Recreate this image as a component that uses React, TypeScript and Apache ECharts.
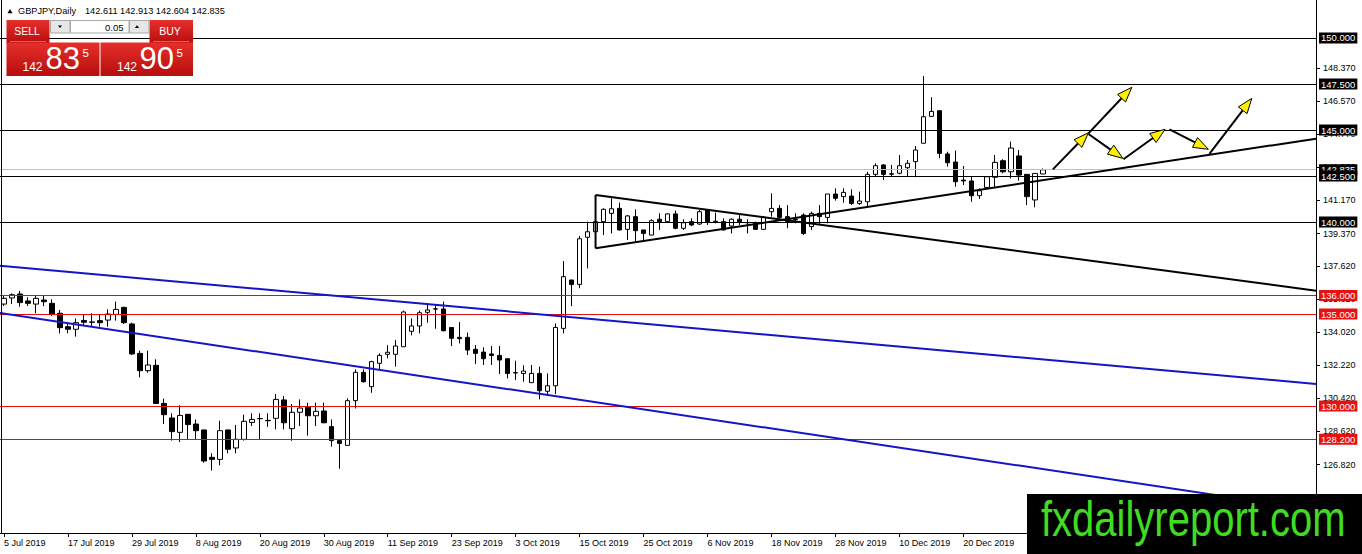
import React, { useEffect, useRef } from "react";
import * as echarts from "echarts";

const FONT = "Liberation Sans, Arial, sans-serif";

// ---- candle data (bar index 0 = 5 Jul 2019, one bar per trading day) ----
const opens = [
  135.54, 135.87, 136.09, 135.71, 135.54, 135.76, 135.58, 135.04, 134.31, 134.17,
  134.65, 134.55, 134.64, 134.67, 134.98, 135.36, 134.46, 132.86, 131.92, 132.21,
  130.14, 129.35, 128.57, 129.55, 129.02, 128.7, 127.21, 127.1, 128.7, 127.72,
  128.19, 129.11, 129.31, 129.22, 129.33, 130.33, 128.77, 129.66, 129.96, 129.47,
  129.73, 128.88, 128.12, 127.86, 130.29, 131.83, 131.05, 132.32, 132.81, 132.81,
  133.22, 134.06, 134.35, 135.09, 135.28, 135.27, 134.27, 133.73, 133.73, 133.08,
  132.93, 132.83, 132.75, 132.57, 131.81, 131.77, 131.27, 131.77, 130.8, 131.1,
  134.22, 136.85, 136.61, 139.17, 139.47, 140.02, 140.47, 140.74, 139.6, 140.29,
  139.57, 139.29, 140.15, 140.02, 140.44, 139.66, 140.02, 139.89, 140.65, 140.04,
  140.02, 139.78, 140.15, 139.97, 139.93, 139.6, 140.56, 140.74, 140.29, 140.15,
  140.38, 139.75, 140.47, 140.25, 141.52, 141.38, 141.41, 141.01, 141.1, 142.59,
  143.1, 142.62, 142.65, 142.95, 143.28, 144.28, 145.74, 146.05, 143.7, 143.26,
  142.28, 142.23, 141.43, 141.88, 142.43, 143.33, 142.73, 143.59, 142.59, 141.2,
  142.611,
];
const highs = [
  135.98, 136.12, 136.25, 135.91, 136.03, 135.98, 135.8, 135.22, 134.53, 134.76,
  134.98, 135.04, 134.95, 135.25, 135.67, 135.4, 134.53, 133.01, 133.01, 132.54,
  130.4, 129.6, 130.04, 129.55, 129.27, 128.7, 127.43, 129.2, 128.7, 128.97,
  129.53, 129.6, 129.6, 129.6, 130.65, 130.54, 130.11, 130.36, 130.18, 130.18,
  130.18, 129.27, 128.12, 130.42, 131.99, 131.99, 132.46, 132.86, 133.31, 133.59,
  135.18, 134.76, 135.18, 135.58, 135.54, 135.67, 134.27, 134.56, 133.99, 133.31,
  133.19, 133.26, 133.26, 132.57, 132.46, 132.21, 132.23, 132.14, 131.77, 134.49,
  137.88, 136.85, 139.24, 140.02, 140.13, 140.74, 141.29, 141.05, 140.38, 140.69,
  139.57, 140.15, 140.47, 140.47, 140.62, 140.15, 140.2, 140.65, 140.69, 140.51,
  140.2, 140.2, 140.47, 140.15, 140.02, 140.33, 141.56, 140.92, 140.92, 140.47,
  140.47, 140.56, 140.92, 141.52, 141.83, 141.83, 141.77, 141.65, 142.73, 143.19,
  143.15, 143.1, 143.64, 143.37, 144.13, 147.93, 146.78, 146.05, 143.82, 143.88,
  143.04, 142.46, 141.83, 142.46, 143.64, 143.41, 144.37, 143.91, 142.59, 142.64,
  142.913,
];
const lows = [
  135.44, 135.54, 135.4, 135.44, 135.04, 135.43, 134.89, 133.95, 133.95, 133.77,
  134.35, 134.35, 134.31, 134.31, 134.64, 134.46, 132.77, 131.56, 131.81, 130.11,
  129.02, 128.12, 128.04, 128.19, 128.19, 126.92, 126.49, 126.78, 127.43, 127.43,
  128.12, 128.91, 128.19, 128.87, 128.73, 128.73, 128.11, 128.91, 128.39, 128.91,
  129.06, 127.79, 126.59, 127.86, 129.87, 131.27, 130.72, 131.96, 132.59, 132.14,
  133.22, 133.84, 133.95, 134.53, 134.2, 134.06, 133.26, 133.4, 132.77, 132.28,
  132.23, 132.23, 131.74, 131.5, 131.41, 131.32, 131.27, 130.36, 130.54, 130.65,
  133.95, 135.43, 136.4, 137.48, 139.38, 139.29, 139.38, 139.53, 139.02, 138.93,
  139.02, 139.29, 139.57, 139.96, 139.6, 139.57, 139.78, 139.84, 139.84, 139.93,
  139.53, 139.38, 139.84, 139.38, 139.6, 139.57, 140.29, 140.15, 139.66, 139.93,
  139.29, 139.57, 139.84, 139.93, 141.16, 141.05, 140.92, 140.92, 140.87, 142.5,
  142.28, 142.5, 142.59, 142.5, 142.43, 144.28, 145.74, 143.46, 143.01, 141.92,
  142.01, 141.1, 141.25, 141.83, 141.88, 142.65, 142.37, 142.25, 140.92, 140.8,
  142.604,
];
const closes = [
  135.85, 136.05, 135.62, 135.58, 135.85, 135.67, 134.98, 134.26, 134.17, 134.53,
  134.55, 134.57, 134.53, 135.0, 135.25, 134.53, 132.83, 131.92, 132.23, 130.14,
  129.53, 128.61, 129.49, 128.99, 128.66, 127.01, 127.1, 128.66, 127.65, 128.19,
  129.17, 129.27, 129.32, 129.2, 130.36, 129.09, 129.66, 129.89, 129.47, 129.71,
  129.09, 128.12, 127.97, 130.29, 131.83, 131.32, 132.41, 132.75, 132.92, 133.26,
  135.11, 134.35, 135.07, 135.22, 135.27, 134.09, 133.68, 133.66, 133.04, 132.86,
  132.57, 132.75, 132.5, 131.77, 131.8, 131.9, 131.77, 130.83, 131.1, 134.27,
  137.03, 136.6, 139.09, 139.47, 140.02, 140.69, 140.72, 139.57, 140.33, 139.53,
  139.38, 140.07, 140.02, 140.44, 139.66, 139.96, 139.84, 140.56, 140.02, 140.02,
  139.57, 140.15, 140.02, 139.96, 139.6, 140.25, 140.74, 140.25, 140.02, 140.13,
  139.38, 140.47, 140.29, 141.52, 141.29, 141.61, 141.01, 141.14, 142.59, 143.06,
  142.59, 142.6, 143.06, 143.19, 143.91, 145.72, 146.01, 143.73, 143.22, 142.19,
  142.23, 141.43, 141.7, 142.46, 143.24, 142.73, 144.02, 142.55, 141.38, 142.64,
  142.835,
];

// ---- axes ----
const xTickLabels = [
  "5 Jul 2019", "17 Jul 2019", "29 Jul 2019", "8 Aug 2019", "20 Aug 2019",
  "30 Aug 2019", "11 Sep 2019", "23 Sep 2019", "3 Oct 2019", "15 Oct 2019",
  "25 Oct 2019", "6 Nov 2019", "18 Nov 2019", "28 Nov 2019", "10 Dec 2019",
  "20 Dec 2019",
];
const barsPerLabel = 8;
const yTicks = [
  125.02, 126.82, 128.62, 130.42, 132.22, 134.02, 135.82, 137.62, 139.37,
  141.17, 142.97, 144.77, 146.57, 148.37,
];
const priceMin = 123.099;
const priceMax = 152.065;
const barMin = -0.5;
const barMax = 164.125;

// ---- horizontal levels ----
const blackLevels = [150, 147.5, 145, 142.5, 140];
const redLevels = [136, 135, 130, 128.2];
const bidPrice = 142.835;
const bidLabel = "142.835";

// ---- trend lines: [fromBar, fromPrice, toBar, toPrice] ----
const triangleUpper = [74, 141.47, 164.125, 136.27];
const triangleLower = [74, 138.57, 164.125, 144.53];
const triangleEdge = [74, 141.47, 74, 138.57];
const channelUpper = [-0.5, 137.62, 164.125, 131.2];
const channelLower = [-0.5, 135.05, 164.125, 124.35];

// ---- forecast arrows ----
const arrowFromBar = [131.21, 135.66, 135.66, 140.04, 145.79, 150.79];
const arrowFromPrice = [142.86, 144.82, 144.78, 143.41, 145.04, 143.7];
const arrowToBar = [135.66, 141.09, 139.96, 145.25, 150.66, 156.09];
const arrowToPrice = [144.85, 147.32, 143.46, 145.04, 143.95, 146.72];

const headerSymbol = "GBPJPY,Daily";
const headerOHLC = "142.611 142.913 142.604 142.835";

function trend(seg: number[], color: string, width: number) {
  return {
    type: "line",
    silent: true,
    symbol: "none",
    z: 4,
    clip: true,
    data: [
      [seg[0], seg[1]],
      [seg[2], seg[3]],
    ],
    lineStyle: { color, width },
  };
}

function levelLabel(bg: string, text?: string) {
  return {
    show: true,
    position: "end",
    distance: 3,
    formatter: (p: any) => text || Number(p.value).toFixed(3),
    color: "#fff",
    backgroundColor: bg,
    padding: [1, 2, 0, 2],
    fontSize: 9.5,
    lineHeight: 10,
    fontFamily: FONT,
  };
}

export default function App() {
  const ref = useRef<HTMLDivElement>(null);
  useEffect(() => {
    document.body.style.margin = "0";
    const chart = echarts.init(ref.current!, null, { renderer: "svg" });
    const candleData = opens.map((o, i) => [i, o, closes[i], lows[i], highs[i]]);
    const arrowData = arrowFromBar.map((b, i) => [b, arrowFromPrice[i], arrowToBar[i], arrowToPrice[i]]);
    const labelIdx = xTickLabels.map((_, k) => k * barsPerLabel);

    const levelData: any[] = [];
    blackLevels.forEach((v) => {
      if (v === 142.5) {
        levelData.push({ yAxis: bidPrice, lineStyle: { color: "#c0c0c0", width: 1, type: "solid" }, label: levelLabel("#000", bidLabel) });
      }
      levelData.push({ yAxis: v, lineStyle: { color: "#000", width: 1, type: "solid" }, label: levelLabel("#000") });
    });
    redLevels.forEach((v) => {
      levelData.push({ yAxis: v, lineStyle: { color: "#e01010", width: 1, type: "solid" }, label: levelLabel("#e81010") });
    });

    const redGrad = new echarts.graphic.LinearGradient(0, 0, 0, 1, [
      { offset: 0, color: "#e5302b" },
      { offset: 1, color: "#b70d0d" },
    ]);

    const option: any = {
      animation: false,
      backgroundColor: "#fff",
      grid: { left: -1, top: 0, width: 1317, height: 533, containLabel: false },
      xAxis: {
        type: "value",
        min: barMin,
        max: barMax,
        splitLine: { show: false },
        axisLine: { show: true, onZero: false, lineStyle: { color: "#000", width: 1 } },
        axisTick: { show: true, customValues: labelIdx, length: 4, lineStyle: { color: "#000" } },
        axisLabel: {
          customValues: labelIdx,
          formatter: (v: number) => xTickLabels[Math.round(v / barsPerLabel)] || "",
          align: "left",
          margin: 5,
          color: "#000",
          fontSize: 9,
          fontFamily: FONT,
        },
      },
      yAxis: {
        type: "value",
        position: "right",
        min: priceMin,
        max: priceMax,
        splitLine: { show: false },
        axisLine: { show: true, onZero: false, lineStyle: { color: "#000", width: 1 } },
        axisTick: { show: true, customValues: yTicks, length: 4, lineStyle: { color: "#000" } },
        axisLabel: {
          customValues: yTicks,
          formatter: (v: number) => v.toFixed(3),
          margin: 7,
          color: "#000",
          fontSize: 9,
          fontFamily: FONT,
        },
      },
      series: [
        {
          type: "candlestick",
          data: candleData,
          encode: { x: 0, y: [1, 2, 3, 4] },
          barWidth: 5,
          z: 2,
          silent: true,
          itemStyle: {
            color: "#fff",
            color0: "#000",
            borderColor: "#000",
            borderColor0: "#000",
            borderWidth: 1,
          },
        },
        {
          ...trend(channelUpper, "#1414c8", 2),
          markLine: {
            silent: true,
            symbol: ["none", "none"],
            z: 3,
            data: levelData,
          },
        },
        trend(channelLower, "#1414c8", 2),
        trend(triangleUpper, "#000", 2),
        trend(triangleLower, "#000", 2),
        trend(triangleEdge, "#000", 2),
        {
          type: "custom",
          silent: true,
          z: 6,
          data: arrowData,
          encode: { x: [0, 2], y: [1, 3] },
          renderItem: (params: any, api: any) => {
            const s = api.coord([api.value(0), api.value(1)]);
            const e = api.coord([api.value(2), api.value(3)]);
            const dx = e[0] - s[0];
            const dy = e[1] - s[1];
            const len = Math.hypot(dx, dy) || 1;
            const ux = dx / len;
            const uy = dy / len;
            const L = 15;
            const W = 5.5;
            const bx = e[0] - ux * L;
            const by = e[1] - uy * L;
            return {
              type: "group",
              children: [
                { type: "line", shape: { x1: s[0], y1: s[1], x2: bx, y2: by }, style: { stroke: "#000", lineWidth: 2 } },
                {
                  type: "polygon",
                  shape: { points: [[e[0], e[1]], [bx - uy * W, by + ux * W], [bx + uy * W, by - ux * W]] },
                  style: { fill: "#ffef00", stroke: "#000", lineWidth: 1 },
                },
              ],
            };
          },
        },
      ],
      graphic: [
        // left frame line
        { type: "line", z: 50, shape: { x1: 1.5, y1: 0, x2: 1.5, y2: 533 }, style: { stroke: "#000", lineWidth: 1 } },
        // header
        { type: "polygon", z: 60, shape: { points: [[7.5, 13.3], [10, 9], [12.5, 13.3]] }, style: { fill: "#000" } },
        { type: "text", z: 60, x: 18, y: 11, style: { text: headerSymbol, fill: "#000", font: `9.2px ${FONT}`, textVerticalAlign: "middle" } },
        { type: "text", z: 60, x: 85, y: 11, style: { text: headerOHLC, fill: "#000", font: `9.2px ${FONT}`, textVerticalAlign: "middle" } },
        // trade panel
        { type: "rect", z: 60, shape: { x: 6.5, y: 20, width: 43, height: 24 }, style: { fill: redGrad } },
        { type: "rect", z: 60, shape: { x: 6.5, y: 42.5, width: 93, height: 33.5 }, style: { fill: redGrad } },
        { type: "rect", z: 60, shape: { x: 149.5, y: 20, width: 43.5, height: 24 }, style: { fill: redGrad } },
        { type: "rect", z: 60, shape: { x: 100.5, y: 42.5, width: 92.5, height: 33.5 }, style: { fill: redGrad } },
        { type: "line", z: 61, shape: { x1: 10, y1: 41.5, x2: 46, y2: 41.5 }, style: { stroke: "rgba(255,255,255,0.35)", lineWidth: 1 } },
        { type: "line", z: 61, shape: { x1: 153, y1: 41.5, x2: 189, y2: 41.5 }, style: { stroke: "rgba(255,255,255,0.35)", lineWidth: 1 } },
        { type: "rect", z: 60, shape: { x: 50.5, y: 20.5, width: 19.5, height: 12.5 }, style: { fill: "#e6e6e6", stroke: "#a8a8a8", lineWidth: 1 } },
        { type: "rect", z: 60, shape: { x: 70.5, y: 20.5, width: 58.5, height: 12.5 }, style: { fill: "#fff", stroke: "#a8a8a8", lineWidth: 1 } },
        { type: "rect", z: 60, shape: { x: 129.5, y: 20.5, width: 19.5, height: 12.5 }, style: { fill: "#e6e6e6", stroke: "#a8a8a8", lineWidth: 1 } },
        { type: "polygon", z: 61, shape: { points: [[58, 25.5], [62, 25.5], [60, 28]] }, style: { fill: "#000" } },
        { type: "polygon", z: 61, shape: { points: [[137, 25.3], [139.2, 28], [134.8, 28]] }, style: { fill: "#000" } },
        { type: "text", z: 61, x: 123.5, y: 27, style: { text: "0.05", fill: "#000", font: `9.5px ${FONT}`, textAlign: "right", textVerticalAlign: "middle" } },
        { type: "text", z: 61, x: 27, y: 31, style: { text: "SELL", fill: "#fff", font: `10.5px ${FONT}`, textAlign: "center", textVerticalAlign: "middle" } },
        { type: "text", z: 61, x: 170, y: 31, style: { text: "BUY", fill: "#fff", font: `10.5px ${FONT}`, textAlign: "center", textVerticalAlign: "middle" } },
        { type: "text", z: 61, x: 22.5, y: 66.5, style: { text: "142", fill: "#fff", font: `12px ${FONT}`, textVerticalAlign: "middle" } },
        { type: "text", z: 61, x: 45.5, y: 58.5, style: { text: "83", fill: "#fff", font: `31px ${FONT}`, textVerticalAlign: "middle" } },
        { type: "text", z: 61, x: 82.5, y: 52.5, style: { text: "5", fill: "#fff", font: `11.5px ${FONT}`, textVerticalAlign: "middle" } },
        { type: "text", z: 61, x: 117, y: 66.5, style: { text: "142", fill: "#fff", font: `12px ${FONT}`, textVerticalAlign: "middle" } },
        { type: "text", z: 61, x: 139.5, y: 58.5, style: { text: "90", fill: "#fff", font: `31px ${FONT}`, textVerticalAlign: "middle" } },
        { type: "text", z: 61, x: 176.5, y: 52.5, style: { text: "5", fill: "#fff", font: `11.5px ${FONT}`, textVerticalAlign: "middle" } },
        // watermark
        { type: "rect", z: 80, shape: { x: 1027, y: 494, width: 335, height: 60 }, style: { fill: "#000" } },
        {
          type: "text",
          z: 81,
          x: 1041,
          y: 519,
          scaleX: 0.8,
          style: { text: "fxdailyreport.com", fill: "#3fdc22", font: `50px ${FONT}`, textVerticalAlign: "middle" },
        },
      ],
    };
    chart.setOption(option);
    return () => chart.dispose();
  }, []);
  return <div ref={ref} style={{ width: 1362, height: 554 }} />;
}
